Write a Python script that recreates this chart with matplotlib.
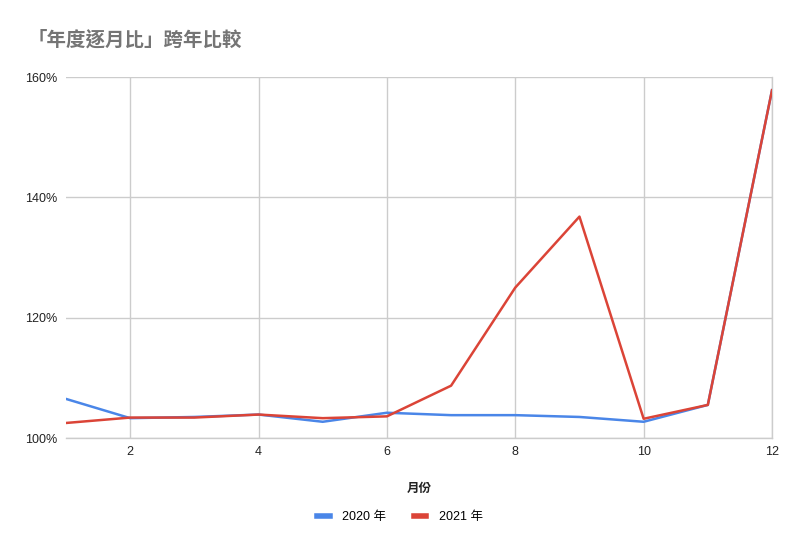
import matplotlib
matplotlib.use('Agg')
import matplotlib.pyplot as plt
from matplotlib.ticker import FuncFormatter

plt.rcParams['font.family'] = ['Liberation Sans', 'Noto Sans CJK TC', 'DejaVu Sans']

# --- data --- #
months = [1, 2, 3, 4, 5, 6, 7, 8, 9, 10, 11, 12]
ratio_2020 = [106.5, 103.3, 103.5, 103.9, 102.7, 104.2, 103.8, 103.8, 103.5, 102.7, 105.5, 157.8]
ratio_2021 = [102.5, 103.4, 103.4, 103.9, 103.3, 103.6, 108.7, 125.0, 136.8, 103.2, 105.5, 157.8]
series_labels = ['2020 年', '2021 年']
title = '「年度逐月比」跨年比較'
x_label = '月份'

fig = plt.figure(figsize=(8, 5.5), dpi=100)
ax = fig.add_axes([0.0825, 0.2036, 0.8825, 0.6564])

ax.plot(months, ratio_2020, color='#4a86e8', linewidth=1.8, label=series_labels[0], zorder=3)
ax.plot(months, ratio_2021, color='#db4437', linewidth=1.8, label=series_labels[1], zorder=4)

ax.set_xlim(1, 12)
ax.set_ylim(100, 160)
ax.set_xticks([2, 4, 6, 8, 10, 12])
ax.set_yticks([100, 120, 140, 160])
ax.yaxis.set_major_formatter(FuncFormatter(lambda v, p: f'{v:.0f}%'))

ax.grid(True, color='#cccccc', linewidth=1)
ax.set_axisbelow(True)
for s in ['top', 'left']:
    ax.spines[s].set_visible(False)
for s in ['bottom', 'right']:
    ax.spines[s].set_color('#cccccc')
    ax.spines[s].set_linewidth(1)
ax.tick_params(length=0, labelsize=9, colors='#222222', pad=6)

ax.set_xlabel(x_label, fontsize=9, fontweight='bold', color='#222222', labelpad=18)

fig.text(0.035, 0.927, title, fontsize=14, fontweight='bold', color='#757575', va='center')

leg = fig.legend(loc='center', bbox_to_anchor=(0.5, 0.06), ncol=2, frameon=False,
                 fontsize=9, handlelength=1.0, columnspacing=2.2, handletextpad=1.0)
for h in leg.get_lines():
    h.set_linewidth(4)

fig.savefig('out.png', dpi=100)
